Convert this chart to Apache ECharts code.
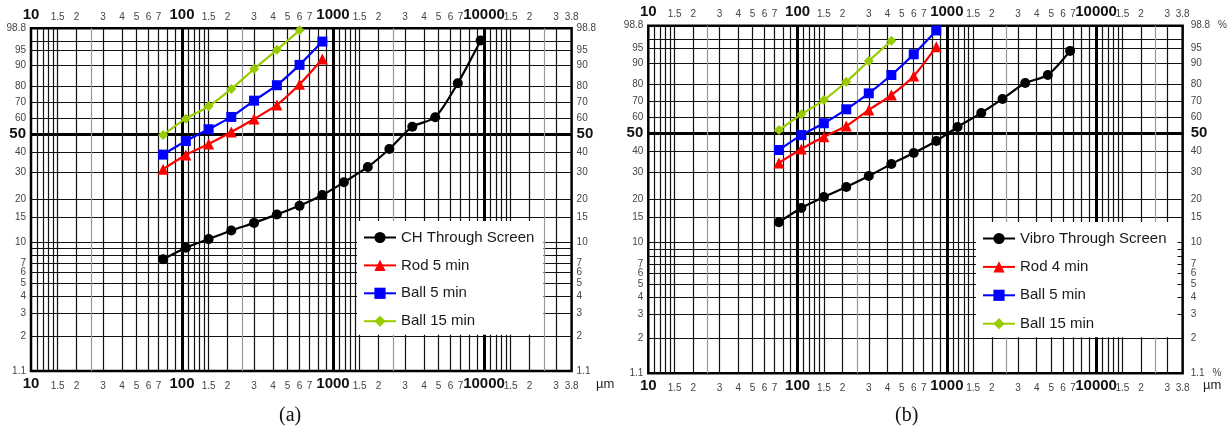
<!DOCTYPE html>
<html><head><meta charset="utf-8">
<script src="https://cdn.jsdelivr.net/npm/echarts@6/dist/echarts.min.js"></script>
<style>html,body{margin:0;padding:0;background:#fff}#c{width:1230px;height:436px}</style>
</head><body><div id="c"></div>
<script>
// ---------- data (particle size in µm, cumulative passing in %) ----------
const sizesA = [75,106,150,212,300,425,600,850,1180,1700,2360,3350,4750,6700,9500];
const chThrough = [7.5,9.1,10.5,12.1,13.7,15.7,18.0,21.3,25.9,32.4,41.5,54.7,60.7,81.6,97.2];
const rod5 = [31.4,38.3,44.3,51.4,59.6,68.6,81.0,92.5];
const ball5A = [38.5,46.0,53.1,60.9,71.3,80.5,90.3,97.0];
const ball15A = [49.6,59.8,67.7,78.4,88.6,95.2,98.6];

const sizesB = [75,106,150,212,300,425,600,850,1180,1700,2360,3350,4750,6700];
const vibroThrough = [13.9,17.4,20.6,24.0,28.2,33.5,38.9,45.5,53.8,62.6,71.4,80.7,84.9,94.3];
const rod4 = [34.0,41.0,47.9,54.4,64.5,73.8,84.4,95.4];
const ball5B = [40.5,48.9,56.1,64.9,74.8,84.9,93.3,98.3];
const ball15B = [51.9,61.7,70.7,81.4,91.0,96.7];

// ---------- tick labels / grid lines ----------
const xTickLabels = [10,15,20,30,40,50,60,70,100,150,200,300,400,500,600,700,1000,1500,2000,3000,4000,5000,6000,7000,10000,15000,20000,30000,38000];
const xMinorLines = [11,12,13,14,15,20,30,40,50,60,70,80,90,
  110,120,130,140,150,200,300,400,500,600,700,800,900,
  1100,1200,1300,1400,1500,2000,3000,4000,5000,6000,7000,8000,9000,
  11000,12000,13000,14000,15000,20000,30000];
const xQuarterLines = [25,250,2500,25000];
const xMajorLines = [100,1000,10000];
const xMin = 10, xMax = 38000;

const yTickLabels = [1.1,2,3,4,5,6,7,10,15,20,30,40,50,60,70,80,90,95,98.8];
const yMinorLines = [2,3,4,5,6,7,8,9,10,15,20,30,40,60,70,80,90,95,97];
const yMajorLines = [50];
const yMin = 1.1, yMax = 98.8;

// ---------- RRSB-paper transforms ----------
const fx = d => Math.log10(d);
const fy = p => Math.log10(-Math.log(1 - p / 100));

const FONT = '"Liberation Sans", Arial, sans-serif';
const rich = {
  b: {fontFamily: FONT, fontSize: 15, fontWeight: 'bold', color: '#111'},
  s: {fontFamily: FONT, fontSize: 10, color: '#444'},
  p: {fontFamily: FONT, fontSize: 10, color: '#444', padding: [0, 0, 0, 8]}
};

function nearest(arr, v, f) {
  let best = arr[0], bd = Infinity;
  arr.forEach(a => { const d = Math.abs(f(a) - v); if (d < bd) { bd = d; best = a; } });
  return best;
}
function xFmt(v) {
  const d = nearest(xTickLabels, v, fx);
  const e = Math.floor(Math.log10(d) + 1e-9);
  const m = d / Math.pow(10, e);
  if (Math.abs(m - 1) < 1e-9) return '{b|' + d + '}';
  return '{s|' + (+m.toFixed(2)) + '}';
}
function yFmt(v, pct) {
  const p = nearest(yTickLabels, v, fy);
  if (p === 50) return '{b|50}';
  if (pct && (p === 98.8 || p === 1.1)) return '{s|' + p + '}{p|%}';
  return '{s|' + p + '}';
}

const grids = [
  {left: 31, top: 28.3, width: 540.6, height: 342.7},
  {left: 648.3, top: 25.7, width: 537.6, height: 347.6}
];

const xAxes = [], yAxes = [];
grids.forEach((g, gi) => {
  const common = {type: 'value', gridIndex: gi, min: fx(xMin), max: fx(xMax), axisLine: {show: false}};
  xAxes.push(Object.assign({}, common, {
    position: 'bottom',
    axisTick: {show: false, customValues: xMinorLines.map(fx)},
    axisLabel: {customValues: xTickLabels.map(fx), formatter: xFmt, rich: rich, margin: 20, verticalAlign: 'bottom'},
    splitLine: {show: true, lineStyle: {color: '#111', width: 1.2}}
  }));
  xAxes.push(Object.assign({}, common, {
    position: 'top',
    axisTick: {show: false, customValues: xMajorLines.map(fx)},
    axisLabel: {customValues: xTickLabels.map(fx), formatter: xFmt, rich: rich, margin: 6},
    splitLine: {show: true, lineStyle: {color: '#000', width: 3}}
  }));
  xAxes.push(Object.assign({}, common, {
    position: 'bottom',
    axisTick: {show: false, customValues: xQuarterLines.map(fx)},
    axisLabel: {show: false},
    splitLine: {show: true, lineStyle: {color: '#999', width: 1.2}}
  }));
  const ycommon = {type: 'value', gridIndex: gi, min: fy(yMin), max: fy(yMax), axisLine: {show: false}};
  yAxes.push(Object.assign({}, ycommon, {
    position: 'left',
    axisTick: {show: false, customValues: yMinorLines.map(fy)},
    axisLabel: {customValues: yTickLabels.map(fy), formatter: v => yFmt(v, false), rich: rich, margin: 5},
    splitLine: {show: true, lineStyle: {color: '#111', width: 1.2}}
  }));
  yAxes.push(Object.assign({}, ycommon, {
    position: 'right',
    axisTick: {show: false, customValues: yMajorLines.map(fy)},
    axisLabel: {customValues: yTickLabels.map(fy), formatter: v => yFmt(v, gi === 1), rich: rich, margin: gi === 0 ? 5 : 8},
    splitLine: {show: true, lineStyle: {color: '#000', width: 3}}
  }));
});

function mk(name, sizes, vals, gi, color, symbol, size) {
  return {
    name: name, type: 'line', xAxisIndex: gi * 3, yAxisIndex: gi * 2,
    data: vals.map((p, i) => [fx(sizes[i]), fy(p)]),
    smooth: 0.25, symbol: symbol, symbolSize: size,
    itemStyle: {color: color}, lineStyle: {color: color, width: 2.2},
    z: 3
  };
}

const series = [
  mk('CH Through Screen', sizesA, chThrough, 0, '#000000', 'circle', 10),
  mk('Rod 5 min', sizesA, rod5, 0, '#ff0000', 'triangle', 11),
  mk('Ball 5 min', sizesA, ball5A, 0, '#0000ff', 'rect', 10),
  mk('Ball 15 min', sizesA, ball15A, 0, '#99cc00', 'diamond', 10),
  mk('Vibro Through Screen', sizesB, vibroThrough, 1, '#000000', 'circle', 10),
  mk('Rod 4 min', sizesB, rod4, 1, '#ff0000', 'triangle', 11),
  mk('Ball 5 min', sizesB, ball5B, 1, '#0000ff', 'rect', 10),
  mk('Ball 15 min', sizesB, ball15B, 1, '#99cc00', 'diamond', 10)
];

const legendCommon = {
  orient: 'vertical', backgroundColor: '#fff', itemWidth: 32, itemHeight: 14,
  textStyle: {fontFamily: FONT, fontSize: 15, color: '#1a1a1a'}, selectedMode: false
};

const unitFont = '13px "Liberation Sans", Arial, sans-serif';
const option = {
  animation: false,
  backgroundColor: '#fff',
  grid: grids.map(g => Object.assign({show: true, borderColor: '#000', borderWidth: 2.5, backgroundColor: 'transparent'}, g)),
  xAxis: xAxes,
  yAxis: yAxes,
  legend: [
    Object.assign({}, legendCommon, {left: 357, top: 221, padding: [9, 9, 6, 6], itemGap: 12.9,
      data: ['CH Through Screen', 'Rod 5 min', 'Ball 5 min', 'Ball 15 min']}),
    Object.assign({}, legendCommon, {left: 976, top: 222, padding: [9, 11, 6, 6], itemGap: 13.4,
      data: ['Vibro Through Screen', 'Rod 4 min', 'Ball 5 min', 'Ball 15 min']})
  ],
  graphic: [
    {type: 'text', left: 279, top: 406, style: {text: '(a)', font: '20px "Liberation Serif", "DejaVu Serif", serif', fill: '#111'}},
    {type: 'text', left: 895, top: 406, style: {text: '(b)', font: '20px "Liberation Serif", "DejaVu Serif", serif', fill: '#111'}},
    {type: 'text', left: 596, top: 378, style: {text: 'µm', font: unitFont, fill: '#222'}},
    {type: 'text', left: 1203, top: 379, style: {text: 'µm', font: unitFont, fill: '#222'}}
  ],
  series: series
};

const chart = echarts.init(document.getElementById('c'), null, {renderer: 'canvas'});
chart.setOption(option);
</script>
</body></html>
